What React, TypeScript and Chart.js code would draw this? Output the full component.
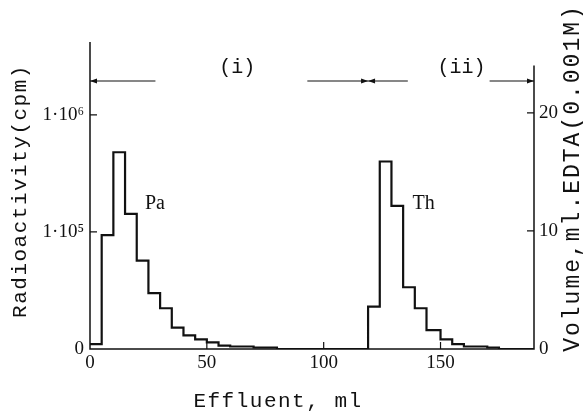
import { useEffect, useRef } from "react";
import { Chart, registerables } from "chart.js";

Chart.register(...registerables);

// Pa fraction: fraction boundaries (ml) and activity per fraction (cpm)
const paEdges = [0, 5, 10, 15, 20, 25, 30, 35, 40, 45, 50, 55, 60, 70, 80];
const paCounts = [1.1e4, 9.4e4, 4.8e5, 1.43e5, 5.7e4, 3.0e4, 2.23e4, 1.52e4, 1.31e4, 1.21e4, 1.14e4, 1.07e4, 1.05e4, 1.03e4];

// Th fraction: fraction boundaries (ml) and activity per fraction (cpm)
const thEdges = [119, 124, 129, 134, 139, 144, 150, 155, 160, 170, 175];
const thCounts = [2.3e4, 4.0e5, 1.67e5, 3.37e4, 2.23e4, 1.45e4, 1.21e4, 1.1e4, 1.05e4, 1.03e4];

// Background level, shown as "0" on the activity axis
const background = 1e4;
const activityMax = 4.2e6;
const effluentMax = 190;
const volumeMax = 26;

const xTickLabels = [0, 50, 100, 150];
const xTickMarks = [50, 100, 119, 150];
const activityTicks = [1e4, 1e5, 1e6];
const volumeTicks = [0, 10, 20];

// Elution stages: range (ml), gap left for the label, label position
const stageNames = ["(i)", "(ii)"];
const stageFrom = [0, 119];
const stageTo = [119, 190];
const stageGapFrom = [28, 136];
const stageGapTo = [93, 171];
const stageLabelAt = [63, 159];

const peakNames = ["Pa", "Th"];
const peakLabelX = [23.5, 138];
const peakLabelY = [1.75e5, 1.75e5];

const SUP: Record<string, string> = { "0": "⁰", "1": "¹", "2": "²", "3": "³", "4": "⁴", "5": "⁵", "6": "⁶", "7": "⁷", "8": "⁸", "9": "⁹" };

const SERIF = "'Liberation Serif', 'Times New Roman', serif";
const MONO = "'Liberation Mono', 'Courier New', monospace";
const INK = "#111";

function stepPoints() {
  const pts: { x: number; y: number }[] = [];
  paCounts.forEach((c, i) => pts.push({ x: paEdges[i], y: c }));
  pts.push({ x: paEdges[paEdges.length - 1], y: background });
  thCounts.forEach((c, i) => pts.push({ x: thEdges[i], y: c }));
  pts.push({ x: thEdges[thEdges.length - 1], y: background });
  pts.push({ x: effluentMax, y: background });
  return pts;
}

function arrowHead(ctx: CanvasRenderingContext2D, x: number, y: number, dir: number) {
  ctx.beginPath();
  ctx.moveTo(x, y);
  ctx.lineTo(x - dir * 7, y - 2.5);
  ctx.lineTo(x - dir * 7, y + 2.5);
  ctx.closePath();
  ctx.fill();
}

const decorations = {
  id: "decorations",
  afterDraw(chart: any) {
    const { ctx, chartArea: a, scales } = chart;
    const sx = scales.x;
    const sy = scales.y;
    const sv = scales.y2;
    ctx.save();
    ctx.strokeStyle = INK;
    ctx.fillStyle = INK;
    ctx.lineCap = "butt";

    // axes frame: left, bottom and a shorter right axis
    ctx.lineWidth = 1.5;
    ctx.beginPath();
    ctx.moveTo(a.left, a.top);
    ctx.lineTo(a.left, a.bottom);
    ctx.lineTo(a.right, a.bottom);
    ctx.lineTo(a.right, sv.getPixelForValue(24));
    ctx.stroke();

    // inward tick marks
    ctx.lineWidth = 1.2;
    ctx.beginPath();
    activityTicks.slice(1).forEach((v) => {
      const py = sy.getPixelForValue(v);
      ctx.moveTo(a.left, py);
      ctx.lineTo(a.left + 7, py);
    });
    volumeTicks.slice(1).forEach((v) => {
      const py = sv.getPixelForValue(v);
      ctx.moveTo(a.right, py);
      ctx.lineTo(a.right - 7, py);
    });
    xTickMarks.forEach((v) => {
      const px = sx.getPixelForValue(v);
      ctx.moveTo(px, a.bottom);
      ctx.lineTo(px, a.bottom - 7);
    });
    ctx.stroke();

    // stage arrows
    const ay = sv.getPixelForValue(22.7);
    ctx.lineWidth = 1.1;
    stageNames.forEach((name, i) => {
      const x0 = sx.getPixelForValue(stageFrom[i]);
      const x1 = sx.getPixelForValue(stageTo[i]);
      const g0 = sx.getPixelForValue(stageGapFrom[i]);
      const g1 = sx.getPixelForValue(stageGapTo[i]);
      ctx.beginPath();
      ctx.moveTo(x0, ay);
      ctx.lineTo(g0, ay);
      ctx.moveTo(g1, ay);
      ctx.lineTo(x1, ay);
      ctx.stroke();
      arrowHead(ctx, x0, ay, -1);
      arrowHead(ctx, x1, ay, 1);
      ctx.font = `20px ${MONO}`;
      ctx.textAlign = "center";
      ctx.textBaseline = "middle";
      ctx.fillText(name, sx.getPixelForValue(stageLabelAt[i]), ay - 13);
    });

    // peak labels
    ctx.font = `20px ${SERIF}`;
    ctx.textAlign = "left";
    ctx.textBaseline = "middle";
    peakNames.forEach((name, i) => {
      ctx.fillText(name, sx.getPixelForValue(peakLabelX[i]), sy.getPixelForValue(peakLabelY[i]));
    });

    // axis titles
    (ctx as any).letterSpacing = "1.5px";
    ctx.font = `21px ${MONO}`;
    ctx.textAlign = "center";
    ctx.textBaseline = "middle";
    ctx.fillText("Effluent, ml", 278, 401);

    ctx.save();
    ctx.translate(20, 191);
    ctx.rotate(-Math.PI / 2);
    ctx.fillText("Radioactivity(cpm)", 0, 0);
    ctx.restore();

    ctx.save();
    (ctx as any).letterSpacing = "2px";
    ctx.font = `23px ${MONO}`;
    ctx.translate(573, 178);
    ctx.rotate(-Math.PI / 2);
    ctx.fillText("Volume,ml.EDTA(0.001M)", 0, 0);
    ctx.restore();

    ctx.restore();
  },
};

export default function App() {
  const canvasRef = useRef<HTMLCanvasElement | null>(null);

  useEffect(() => {
    const canvas = canvasRef.current;
    if (!canvas) return;
    const tickFont = { family: SERIF, size: 19 };
    const chart = new Chart(canvas, {
      type: "line",
      data: {
        datasets: [
          {
            data: stepPoints(),
            stepped: "before",
            borderColor: INK,
            borderWidth: 2.2,
            pointRadius: 0,
            fill: false,
            borderJoinStyle: "miter",
            yAxisID: "y",
            xAxisID: "x",
          },
        ],
      },
      options: {
        responsive: false,
        animation: false,
        layout: { padding: { top: 42, left: 0, right: 0, bottom: 0 } },
        plugins: { legend: { display: false }, tooltip: { enabled: false } },
        scales: {
          x: {
            type: "linear",
            position: "bottom",
            min: 0,
            max: effluentMax,
            grid: { display: false, drawTicks: false },
            border: { display: false },
            afterBuildTicks: (s: any) => {
              s.ticks = xTickLabels.map((v) => ({ value: v }));
            },
            afterFit: (s: any) => {
              s.height = 67;
            },
            ticks: {
              padding: 3,
              color: INK,
              font: tickFont,
              maxRotation: 0,
              autoSkip: false,
              callback: (v: any) => String(v),
            },
          },
          y: {
            type: "logarithmic",
            position: "left",
            min: background,
            max: activityMax,
            grid: { display: false, drawTicks: false },
            border: { display: false },
            afterBuildTicks: (s: any) => {
              s.ticks = activityTicks.map((v) => ({ value: v }));
            },
            afterFit: (s: any) => {
              s.width = 90;
            },
            ticks: {
              padding: 6,
              color: INK,
              font: tickFont,
              autoSkip: false,
              callback: (v: any) => {
                const n = Number(v);
                if (n <= background) return "0";
                const e = String(Math.round(Math.log10(n)));
                return "1·10" + e.split("").map((d) => SUP[d]).join("");
              },
            },
          },
          y2: {
            type: "linear",
            position: "right",
            min: 0,
            max: volumeMax,
            grid: { display: false, drawTicks: false },
            border: { display: false },
            afterBuildTicks: (s: any) => {
              s.ticks = volumeTicks.map((v) => ({ value: v }));
            },
            afterFit: (s: any) => {
              s.width = 49;
            },
            ticks: {
              padding: 5,
              color: INK,
              font: tickFont,
              autoSkip: false,
              callback: (v: any) => String(v),
            },
          },
        },
      },
      plugins: [decorations],
    } as any);
    return () => chart.destroy();
  }, []);

  return (
    <div style={{ position: "fixed", left: 0, top: 0, width: 583, height: 416, background: "#fff" }}>
      <canvas ref={canvasRef} width={583} height={416} style={{ display: "block" }} />
    </div>
  );
}
